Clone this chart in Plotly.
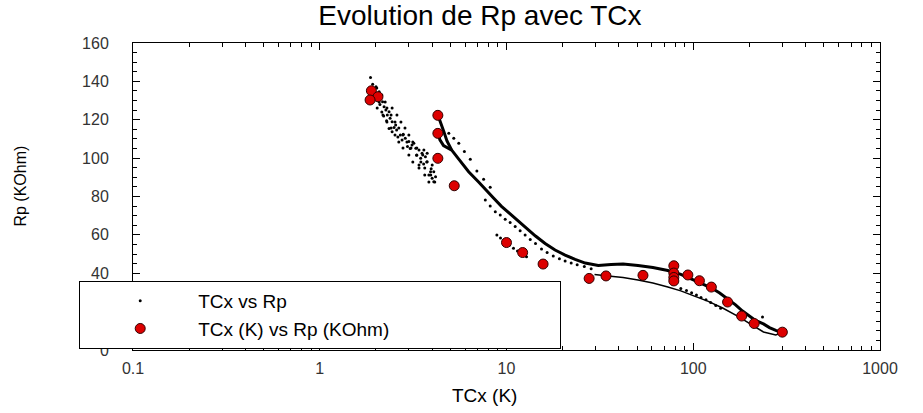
import plotly.graph_objects as go

# ---- TCx vs Rp : scattered points (cloud at low T, sparse branches) ----
cloud_T = [1.87, 1.92, 1.95, 2.00, 2.02, 2.05, 2.08, 2.10, 2.12, 2.15, 2.17, 2.20, 2.21, 2.26,
           2.28, 2.30, 2.35, 2.35, 2.38, 2.44, 2.44, 2.50, 2.55, 2.58, 2.62, 2.70, 2.76, 2.80,
           2.87, 2.95, 3.00, 3.05, 3.12, 3.19, 3.27, 3.30, 3.40, 3.40, 3.47, 3.53, 3.60, 3.61,
           3.68, 3.76, 3.76, 3.84, 3.92, 3.95, 4.00, 4.00, 4.08, 4.08, 4.17,
           1.88, 2.02, 1.98, 2.15, 2.08, 2.24, 2.03, 2.29, 2.44, 2.18, 2.41, 2.59, 2.29, 2.53,
           2.72, 2.41, 2.65, 2.86, 2.53, 2.79, 3.00, 2.65, 2.93, 3.15, 2.79, 3.08, 3.31, 3.00,
           3.31, 3.56, 3.15, 3.48, 3.74, 3.40, 3.65, 3.65, 3.93, 3.84, 4.13]
cloud_R = [142.0, 138.5, 136.0, 137.2, 133.0, 130.5, 134.6, 128.0, 131.2, 124.0, 129.4, 122.0, 126.8, 125.1,
           119.5, 122.5, 124.2, 115.5, 120.8, 119.0, 113.8, 116.0, 117.3, 114.7, 111.0, 112.1, 109.5, 112.5,
           110.3, 106.0, 108.6, 105.0, 106.8, 107.7, 105.1, 101.5, 104.2, 96.4, 99.9, 102.5, 97.0, 104.2,
           100.7, 98.1, 102.5, 91.2, 92.9, 94.5, 96.4, 89.5, 92.9, 87.7, 90.3,
           136.6, 136.6, 132.9, 132.9, 129.3, 129.3, 126.1, 126.1, 126.1, 122.5, 122.5, 122.5, 118.8, 118.8,
           118.8, 115.7, 115.7, 115.7, 112.1, 112.1, 112.1, 108.4, 108.4, 108.4, 105.3, 105.3, 105.3, 101.6,
           101.6, 101.6, 98.0, 98.0, 98.0, 94.9, 94.9, 91.2, 91.2, 87.6, 87.6]

branch_up_T = [4.91, 5.22, 5.55, 5.95, 6.40, 6.94, 7.54, 8.18]
branch_up_R = [112.9, 110.3, 107.7, 103.4, 99.4, 93.3, 89.0, 84.8]

branch_low_T = [7.70, 8.18, 8.71, 9.26, 9.84, 10.46, 11.13, 11.83, 12.58, 13.4, 14.3, 15.4, 16.5,
                17.8, 19.2, 20.6, 22.2, 23.9, 26.1, 28.4]
branch_low_R = [78.2, 75.1, 72.1, 70.4, 68.1, 66.4, 64.3, 62.2, 59.9, 57.6, 55.5, 52.6, 50.8,
                49.0, 47.6, 46.4, 45.3, 44.4, 43.5, 42.4]

step_T = [8.88, 9.29, 9.84, 10.4, 10.9, 11.45, 12.06, 12.8]
step_R = [59.9, 58.4, 56.4, 54.7, 53.0, 51.6, 50.4, 48.6]

band_T = [85.8, 92.0, 98.0, 104.0, 110.0, 117.0, 124.0, 132.0, 140.2, 234.9]
band_R = [32.0, 31.0, 29.8, 28.6, 27.4, 26.2, 24.8, 23.2, 21.8, 17.2]

# ---- TCx vs Rp : dense sweeps (continuous curves) ----
start_T = [4.29, 4.45, 4.61, 4.80, 5.09]
start_R = [122.5, 118.5, 114.0, 109.0, 104.2]

cool_T = [4.29, 4.40, 4.60, 5.09, 5.55, 6.27, 7.09, 7.73, 8.52, 9.40, 10.5, 11.6, 12.8, 14.3,
          16.1, 18.2, 20.6, 23.3, 26.4, 31.0, 36.3, 42.1, 50.6, 60.8, 73.1, 85.8, 99.4, 112.4,
          125.5, 138.5, 152.8, 168.5, 183.6, 200.1, 215.4, 237.7, 255.9, 276.6, 300.2]
cool_R = [113.0, 109.5, 106.5, 104.2, 99.5, 92.9, 87.6, 83.4, 79.2, 74.9, 70.7, 67.0, 63.6, 59.4,
          55.5, 52.1, 49.5, 47.2, 45.3, 44.0, 44.6, 44.8, 44.0, 43.0, 41.4, 39.4, 36.7, 34.4,
          32.3, 29.7, 26.6, 23.5, 20.3, 17.5, 15.4, 13.6, 11.7, 10.2, 9.1]

warm_T = [300.2, 276.6, 237.7, 202.6, 172.7, 143.7, 119.5, 101.5, 85.8, 73.1, 60.8, 50.6, 42.1,
          35.0, 29.6]
warm_R = [9.1, 7.8, 9.4, 13.6, 17.7, 21.9, 25.5, 28.1, 30.8, 32.8, 34.9, 36.5, 37.8,
          38.6, 39.3]

# ---- TCx (K) vs Rp (KOhm) ----
meas_T = [1.89, 2.05, 1.86, 4.29, 4.29, 4.29, 5.25, 10.0, 12.2, 15.7, 27.7, 34.1, 53.8,
          78.7, 78.7, 78.7, 78.7, 93.6, 107.9, 125.0, 152.7, 181.6, 212.0, 300.0]
meas_R = [135.1, 132.0, 130.3, 122.3, 112.9, 99.9, 85.6, 56.0, 50.8, 44.8, 37.3, 38.6, 38.9,
          43.9, 40.1, 37.8, 36.0, 39.1, 36.1, 32.8, 25.0, 17.7, 13.8, 9.3]

x_ticks = [0.1, 1, 10, 100, 1000]
x_tick_text = ["0.1", "1", "10", "100", "1000"]
x_minor = [m * 10 ** e for e in range(-1, 3) for m in range(2, 10)]
y_ticks = [0, 40, 60, 80, 100, 120, 140, 160]

FONT = "Liberation Sans, Arial, Helvetica, sans-serif"

fig = go.Figure()

dots_T = cloud_T + branch_up_T + branch_low_T + step_T + band_T
dots_R = cloud_R + branch_up_R + branch_low_R + step_R + band_R

for xs, ys, w in [(start_T, start_R, 3), (cool_T, cool_R, 3), (warm_T, warm_R, 1.5)]:
    fig.add_trace(go.Scatter(x=xs, y=ys, mode="lines", line=dict(color="black", width=w),
                             showlegend=False, hoverinfo="skip"))

fig.add_trace(go.Scatter(x=dots_T, y=dots_R, mode="markers", name="TCx vs Rp",
                         marker=dict(color="black", size=3)))

fig.add_trace(go.Scatter(x=meas_T, y=meas_R, mode="markers", name="TCx (K) vs Rp (KOhm)",
                         marker=dict(color="#dd0000", size=10,
                                     line=dict(color="#330000", width=1))))

fig.update_layout(
    width=923, height=413,
    margin=dict(l=133, r=43, t=43, b=63),
    paper_bgcolor="white", plot_bgcolor="white",
    font=dict(family=FONT, color="black"),
    title=dict(text="Evolution de Rp avec TCx", x=0.52, xanchor="center",
               y=0.962, yanchor="middle", font=dict(size=28, family=FONT)),
    xaxis=dict(type="log", range=[-1, 3], showgrid=False, zeroline=False,
               showline=True, linecolor="black", linewidth=1, mirror="allticks",
               tickvals=x_ticks, ticktext=x_tick_text, ticks="inside", ticklen=7,
               tickcolor="black", ticklabelstandoff=4,
               tickfont=dict(size=16, color="#333333"),
               minor=dict(tickvals=x_minor, ticks="inside", ticklen=4, tickcolor="black")),
    yaxis=dict(range=[0, 160], showgrid=False, zeroline=False,
               showline=True, linecolor="black", linewidth=1, mirror="allticks",
               tickvals=y_ticks, ticks="inside", ticklen=7,
               tickcolor="black", ticklabelstandoff=20,
               tickfont=dict(size=16, color="#333333"),
               minor=dict(dtick=5, ticks="inside", ticklen=4, tickcolor="black")),
    yaxis2=dict(overlaying="y", side="left", anchor="x", matches="y", range=[0, 160],
                showgrid=False, zeroline=False, showline=False, showticklabels=False,
                tickvals=y_ticks, ticks="outside", ticklen=7, tickcolor="black"),
    legend=dict(orientation="h", x=-0.072, y=0.225, xanchor="left", yanchor="top",
                bgcolor="white", bordercolor="black", borderwidth=1,
                font=dict(size=19, family=FONT), itemwidth=106, indentation=2,
                entrywidth=357, entrywidthmode="pixels", tracegroupgap=0),
    annotations=[
        dict(text="Rp (KOhm)", xref="paper", yref="paper", x=-0.151, y=0.533,
             textangle=-90, showarrow=False, font=dict(size=16, family=FONT),
             xanchor="center", yanchor="middle"),
        dict(text="TCx (K)", xref="paper", yref="paper", x=0.47, y=-0.147,
             showarrow=False, font=dict(size=19, family=FONT),
             xanchor="center", yanchor="middle"),
    ],
)

fig.write_html("out.html")
